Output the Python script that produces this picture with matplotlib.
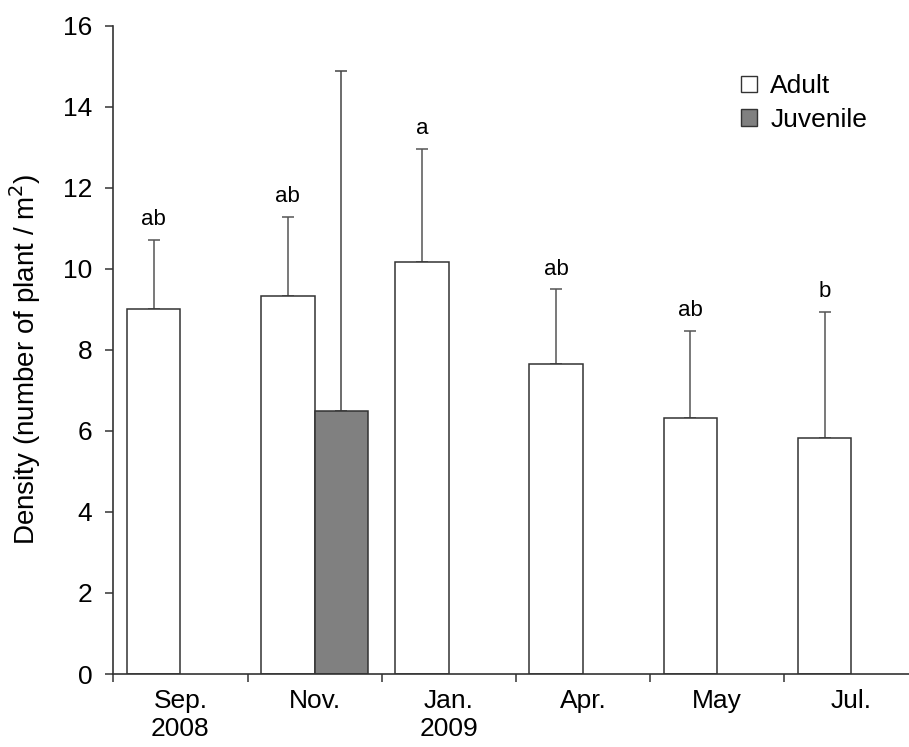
import numpy as np
import matplotlib as mpl
mpl.use('Agg')
import matplotlib.pyplot as plt
from matplotlib.patches import Patch

months   = ['Sep.\n2008', 'Nov.', 'Jan.\n2009', 'Apr.', 'May', 'Jul.']
adult    = [9.0, 9.34, 10.18, 7.66, 6.33, 5.83]
adult_se = [1.71, 1.94, 2.78, 1.83, 2.14, 3.11]
juv      = [np.nan, 6.50, np.nan, np.nan, np.nan, np.nan]
juv_se   = [np.nan, 8.38, np.nan, np.nan, np.nan, np.nan]
letters  = ['ab', 'ab', 'a', 'ab', 'ab', 'b']

plt.rcParams['font.family'] = ['Liberation Sans', 'DejaVu Sans']

W, H = 909, 747
fig = plt.figure(figsize=(W/100., H/100.), dpi=100)
# axis runs past the right edge of the picture, like the original
ax = fig.add_axes([113.3/W, 73.0/H, (918.6-113.3)/W, 648.3/H])

x = np.arange(len(months))
w = 0.4
edge = '#333333'
ax.bar(x-w/2, adult, w, color='white', edgecolor=edge, linewidth=1.1, zorder=2)
ax.bar(x+w/2, juv, w, color='#808080', edgecolor=edge, linewidth=1.1, zorder=2)
ax.errorbar(x-w/2, adult, yerr=[np.zeros(len(x)), adult_se], fmt='none',
            ecolor='#555555', elinewidth=1.1, capsize=4, capthick=1.1, zorder=1)
ax.errorbar(x+w/2, juv, yerr=[np.zeros(len(x)), juv_se], fmt='none',
            ecolor='#444444', elinewidth=1.1, capsize=4, capthick=1.1, zorder=1)

for i in range(len(x)):
    ax.annotate(letters[i], (x[i]-w/2, adult[i]+adult_se[i]), xytext=(0, 7),
                textcoords='offset points', ha='center', va='bottom', fontsize=16)

ax.set_xlim(-0.5, len(x)-0.5)
ax.set_ylim(0, 16)
ax.set_yticks(np.arange(0, 17, 2))
ax.set_xticks(np.arange(-0.5, len(x), 1.0))
ax.set_xticklabels([])
ax.set_xticks(x, minor=True)
ax.set_xticklabels(months, minor=True, fontsize=19, linespacing=1.2)
ax.tick_params(axis='x', which='minor', length=0, pad=11)
ax.tick_params(axis='both', which='major', direction='out', length=6,
               width=1.1, color=edge, labelsize=19)
ax.tick_params(axis='y', pad=9)

for s in ['top', 'right']:
    ax.spines[s].set_visible(False)
for s in ['left', 'bottom']:
    ax.spines[s].set_color(edge)
    ax.spines[s].set_linewidth(1.2)

ax.set_ylabel('Density (number of plant / m$^2$)', fontsize=20)
ax.yaxis.set_label_coords(-0.087, 0.485)

handles = [Patch(facecolor='white', edgecolor=edge, label='Adult'),
           Patch(facecolor='#808080', edgecolor=edge, label='Juvenile')]
fig.legend(handles=handles, loc='upper left', bbox_to_anchor=(728/W, 1-61/H),
           frameon=False, fontsize=19, borderpad=0, handlelength=0.6,
           handleheight=0.6, handletextpad=0.5, labelspacing=0.36)

fig.savefig('out.png', dpi=100)
